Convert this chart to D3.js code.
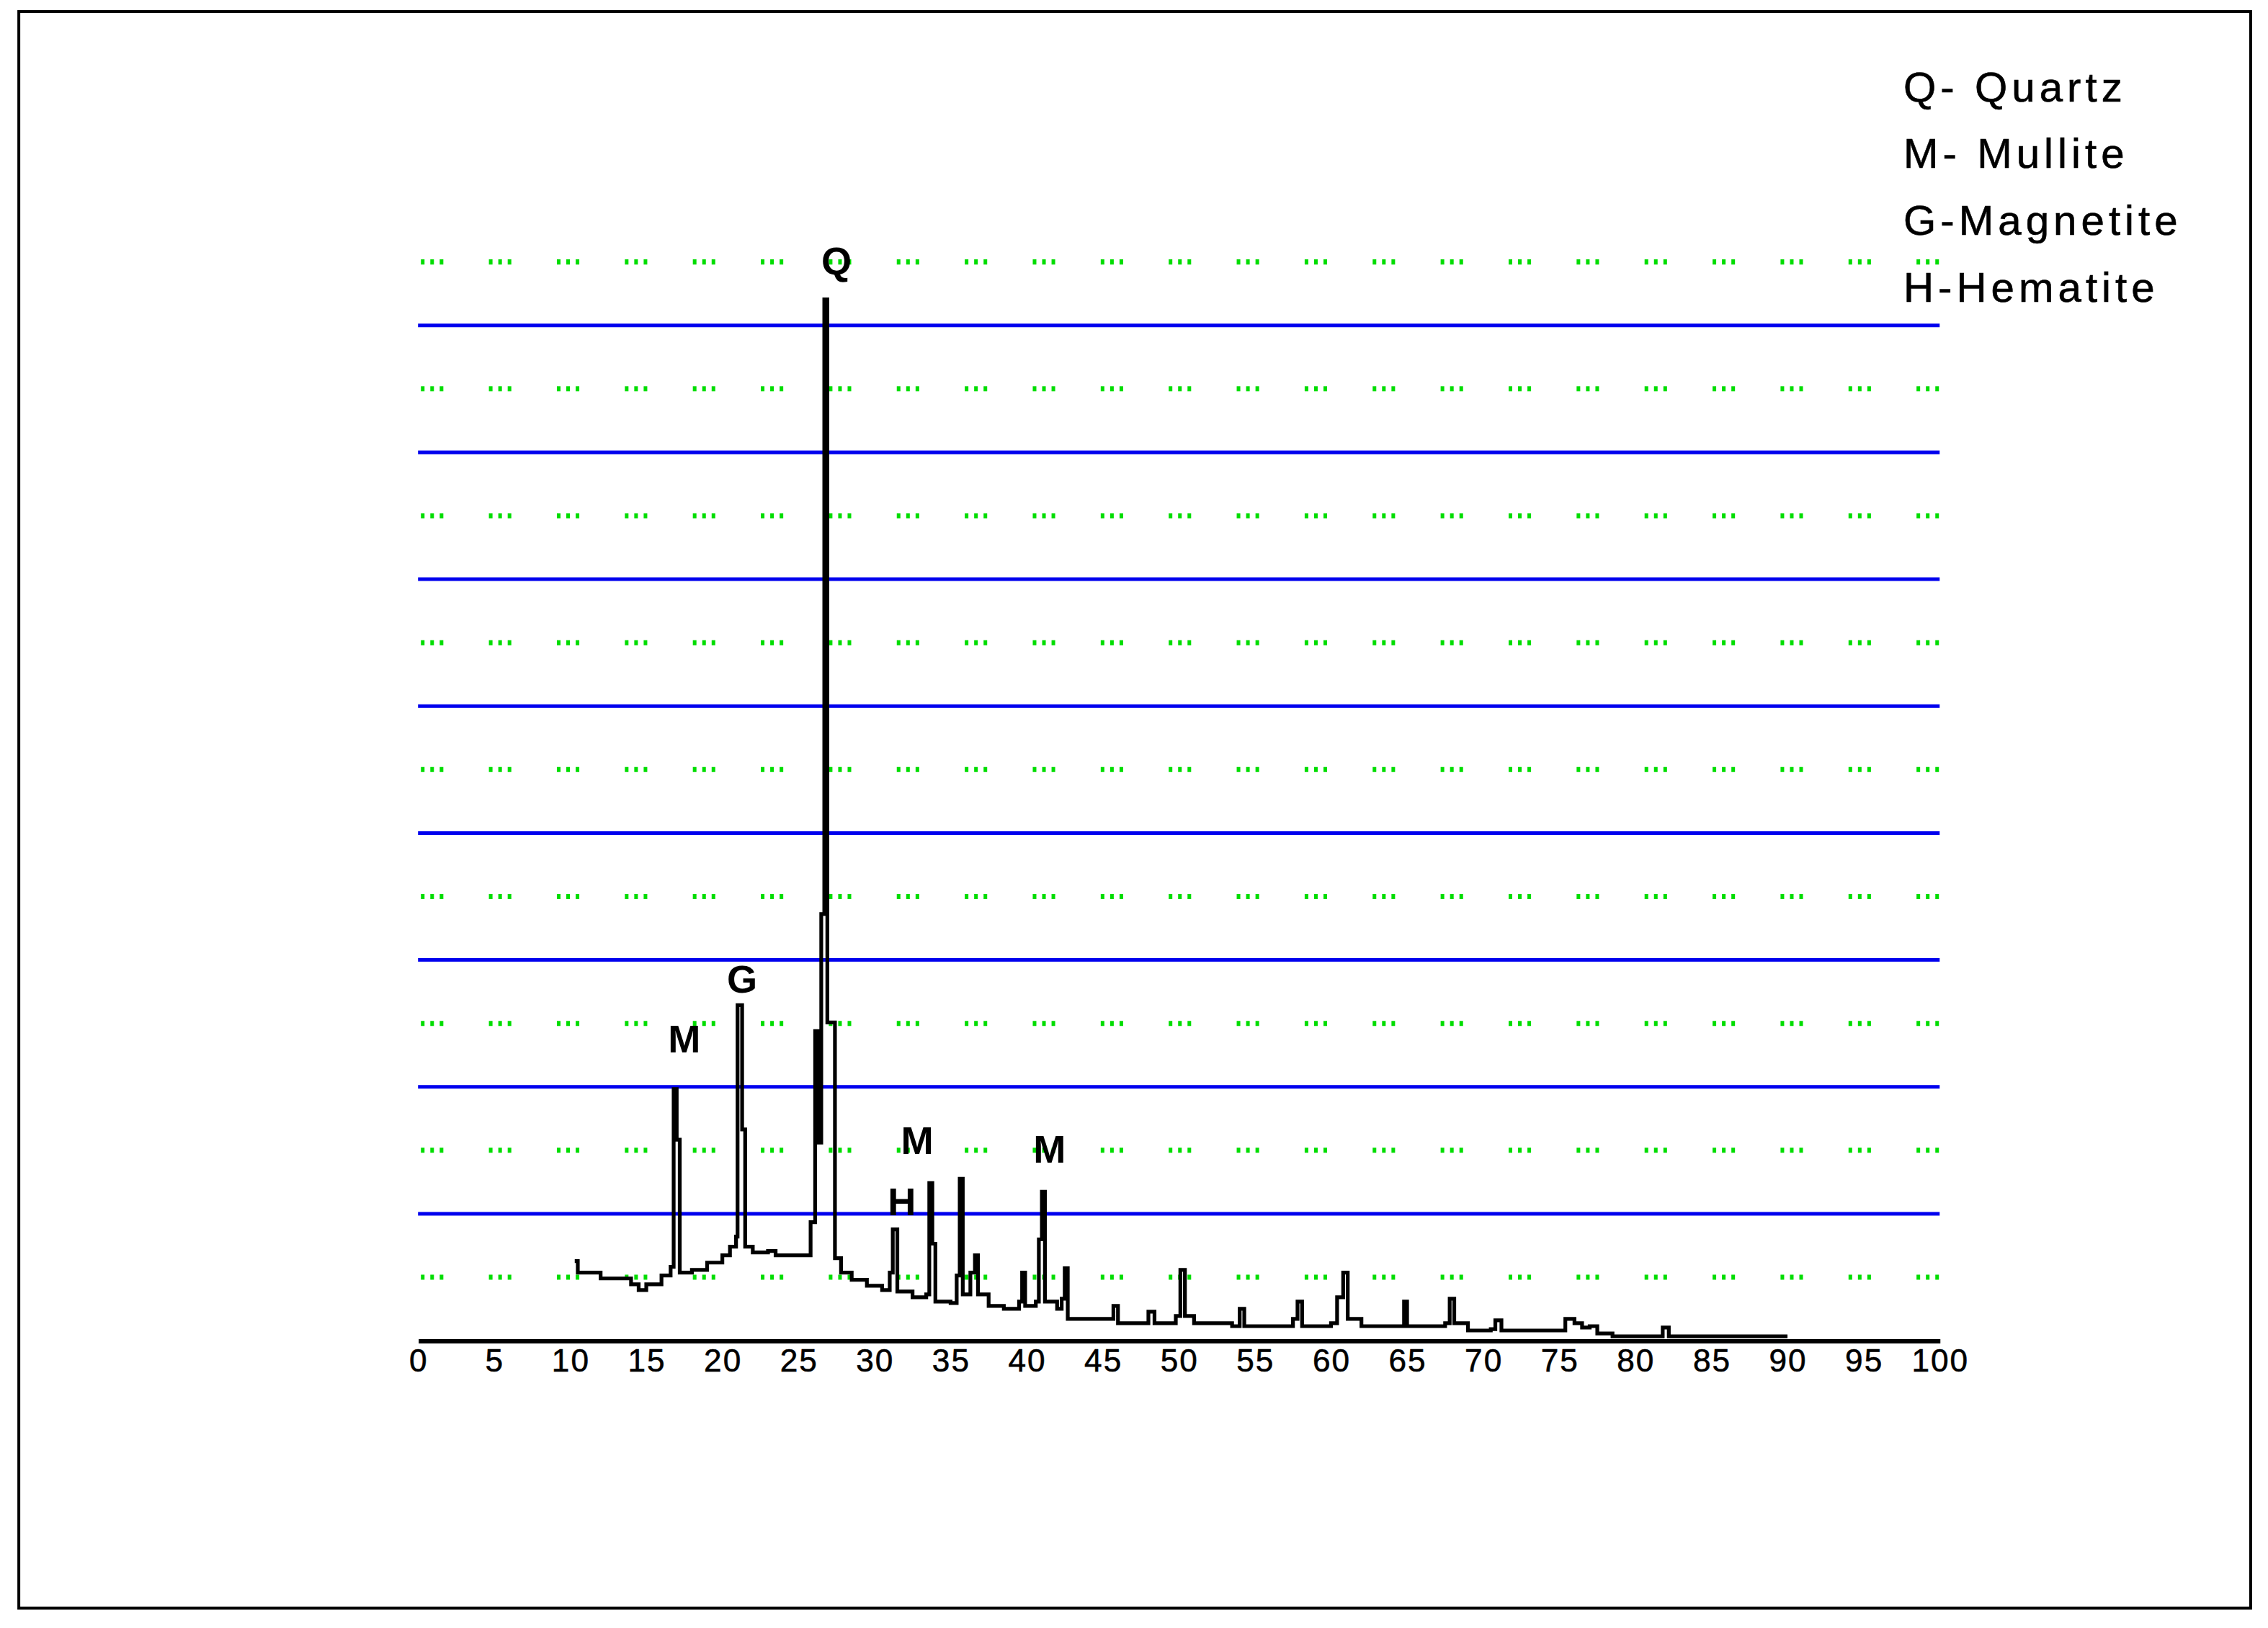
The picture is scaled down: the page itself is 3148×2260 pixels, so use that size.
<!DOCTYPE html>
<html><head><meta charset="utf-8">
<script src="https://cdn.jsdelivr.net/npm/d3@7"></script>
<style>body{margin:0;background:#fff}</style></head>
<body><svg id="c" width="3148" height="2260" viewBox="0 0 1568 1125.7"></svg>
<script>
const xTicks = d3.range(0, 101, 5);
const blueLevels = [1000,2000,3000,4000,5000,6000,7000,8000];
const greenLevels = [500,1500,2500,3500,4500,5500,6500,7500,8500];
const legend = ["Q- Quartz","M- Mullite","G-Magnetite","H-Hematite"];
const angle = [10.3,10.5,12,14,14.5,15,16,16.6,16.8,17.0,17.2,18,19,20,20.5,20.9,21.0,21.3,21.5,22,23,23.5,25.5,25.8,26.1,26.3,26.5,26.7,26.9,27.2,27.4,27.8,28.5,29.5,30.5,31,31.2,31.5,32.5,33.4,33.6,33.8,34,35,35.4,35.6,35.8,36.3,36.6,36.8,37.5,38.5,39.5,39.7,39.9,40.6,40.8,41.0,41.2,42,42.3,42.5,42.7,45.5,45.7,46,47.8,48,48.4,49.8,50.1,50.4,51,53.5,54,54.3,55.5,57.5,57.8,58.1,60,60.4,60.8,61.1,62,64.5,64.8,65,67.5,67.8,68.1,69,70.5,70.8,71.2,75,75.4,76,76.5,77,77.5,78.5,81.5,81.8,82.2,90];
const intensity = [627,536,490,444,399,444,513,581,1983,1584,536,558,615,672,741,820,2644,1664,741,695,707,672,672,934,2439,1561,3362,8205,2507,2507,650,536,479,433,399,536,877,387,342,365,1242,764,308,296,513,1276,365,536,672,365,274,251,308,536,274,308,798,1174,308,251,330,570,171,171,274,137,137,228,137,194,558,194,137,114,251,114,114,171,308,114,137,342,536,171,114,114,308,114,137,330,137,80,91,160,80,80,171,137,103,114,57,34,34,103,34,34];
const peakLabels = [{t:"Q",a:27.5,v:8400},{t:"M",a:17.5,v:2270},{t:"G",a:21.3,v:2740},{t:"M",a:32.8,v:1470},{t:"H",a:31.8,v:990},{t:"M",a:41.5,v:1400}];

const svg = d3.select("#c");
svg.append("rect").attr("x",13).attr("y",8).attr("width",1543).attr("height",1104)
  .attr("fill","none").attr("stroke","#000").attr("stroke-width",2);
const x = d3.scaleLinear().domain([0,100]).range([289,1341]);
const y = d3.scaleLinear().domain([0,8000]).range([927,225]);

svg.selectAll(".g").data(greenLevels).join("line")
  .attr("x1",291).attr("x2",1341).attr("y1",d=>y(d)).attr("y2",d=>y(d))
  .attr("stroke","#00dd00").attr("stroke-width",3.5)
  .attr("stroke-dasharray","2.5,4,2.5,4,2.5,31.5");
svg.selectAll(".b").data(blueLevels).join("line")
  .attr("x1",289).attr("x2",1341).attr("y1",d=>y(d)).attr("y2",d=>y(d))
  .attr("stroke","#0000ee").attr("stroke-width",2.5);

const line = d3.line().curve(d3.curveStepAfter).x(d=>x(d[0])).y(d=>y(d[1]));
svg.append("path").datum(d3.zip(angle,intensity)).attr("d",line)
  .attr("fill","none").attr("stroke","#000").attr("stroke-width",2.6);

const ax = svg.append("g").attr("transform","translate(0,927)")
  .call(d3.axisBottom(x).tickValues(xTicks).tickSize(0).tickPadding(6).tickFormat(d3.format("d")));
ax.select(".domain").attr("stroke","#000").attr("stroke-width",3);
ax.selectAll("text").attr("font-family","Liberation Sans, Arial, sans-serif").attr("font-size",22)
  .attr("letter-spacing",1).attr("fill","#000").attr("stroke","#000").attr("stroke-width",0.3);

svg.selectAll(".pl").data(peakLabels).join("text")
  .attr("x",d=>x(d.a)).attr("y",d=>y(d.v)).attr("text-anchor","middle")
  .attr("font-family","Liberation Sans, Arial, sans-serif").attr("font-weight","bold").attr("font-size",27)
  .text(d=>d.t);

svg.selectAll(".lg").data(legend).join("text")
  .attr("x",1316).attr("y",(d,i)=>70+i*46.3)
  .attr("font-family","Liberation Sans, Arial, sans-serif").attr("font-size",29).attr("letter-spacing",3)
  .attr("stroke","#000").attr("stroke-width",0.3)
  .text(d=>d);
</script></body></html>
